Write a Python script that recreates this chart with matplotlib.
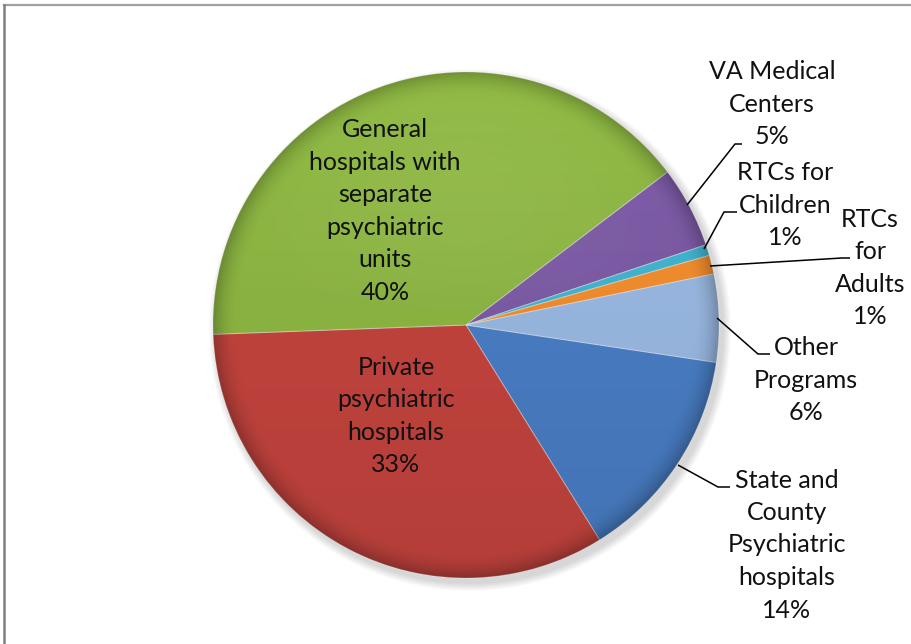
import matplotlib.pyplot as plt
import numpy as np
from matplotlib.patches import Circle

plt.rcParams['font.family'] = ['Lato', 'DejaVu Sans']

# data, in Excel's series order (clockwise from the first slice)
categories = ['State and\nCounty\nPsychiatric\nhospitals', 'Private\npsychiatric\nhospitals',
              'General\nhospitals with\nseparate\npsychiatric\nunits', 'VA Medical\nCenters',
              'RTCs for\nChildren', 'RTCs\nfor\nAdults', 'Other\nPrograms']
shares = [13.8, 33.3, 40.3, 5.2, 0.7, 1.2, 5.6]
colors = ['#4A80C8', '#C8453F', '#90BA44', '#7E5CA8', '#43B8D4', '#F7902E', '#9CBCE6']

W, H = 911, 644
cx, cy, R = 466, H - 325, 253

fig = plt.figure(figsize=(W / 100, H / 100), dpi=100)
ax = fig.add_axes([0, 0, 1, 1])

# soft drop shadow
for i in range(8):
    ax.add_patch(Circle((cx + 4, cy - 5), R + 1 + i, color='black', alpha=0.018, lw=0, zorder=0))

wedges, _ = ax.pie(shares, colors=colors, startangle=-8.5, counterclock=False,
                   center=(cx, cy), radius=R,
                   wedgeprops=dict(edgecolor=(1, 1, 1, 0.35), linewidth=0.8))
for w in wedges:
    w.set_zorder(2)

# bevel-ish shading over the whole pie
n = 400
xs = np.linspace(-1, 1, n)
xx, yy = np.meshgrid(xs, xs[::-1])
rr = np.sqrt(xx ** 2 + yy ** 2)
dark = np.zeros((n, n, 4))
dark[..., 3] = 0.10 * (1 - yy) / 2 + 0.22 * np.clip((rr - 0.9) / 0.1, 0, 1) ** 2
light = np.ones((n, n, 4))
light[..., 3] = 0.10 * np.clip(yy, 0, 1) * np.clip(1 - rr, 0, 1) * 2
clip = Circle((cx, cy), R, transform=ax.transData)
for img in (dark, light):
    im = ax.imshow(img, extent=(cx - R, cx + R, cy - R, cy + R), zorder=3, interpolation='bilinear')
    im.set_clip_path(clip)

pcts = ['{:.0f}%'.format(s) for s in shares]
fs = 18
ls = 1.5

def lbl(i, x, y):
    ax.text(x, H - y, categories[i] + '\n' + pcts[i], ha='center', va='center',
            fontsize=fs, linespacing=ls, color='#111111', zorder=5)

lbl(2, 385, 211)
lbl(1, 396, 416)
lbl(3, 772, 104)
lbl(4, 785, 205)
lbl(5, 870, 268)
lbl(6, 806, 380)
lbl(0, 787, 545)

# leader lines
leaders = [
    [(687, 205), (735, 144), (742, 144)],
    [(704, 249), (724, 212), (737, 212)],
    [(710, 266), (842, 258), (850, 258)],
    [(717, 318), (758, 354), (770, 354)],
    [(678, 465), (718, 487), (730, 487)],
]
for pts in leaders:
    px = [p[0] for p in pts]
    py = [H - p[1] for p in pts]
    ax.plot(px, py, color='black', lw=1.1, zorder=4, solid_capstyle='butt')

# chart border (top and left visible)
ax.plot([3.5, W], [H - 5, H - 5], color='#A0A0A0', lw=1.6, zorder=6)
ax.plot([4, 4], [H - 5, 0], color='#808080', lw=1.8, zorder=6)

ax.set_xlim(0, W)
ax.set_ylim(0, H)
ax.set_aspect('auto')
ax.axis('off')

fig.savefig('out.png', dpi=100)
